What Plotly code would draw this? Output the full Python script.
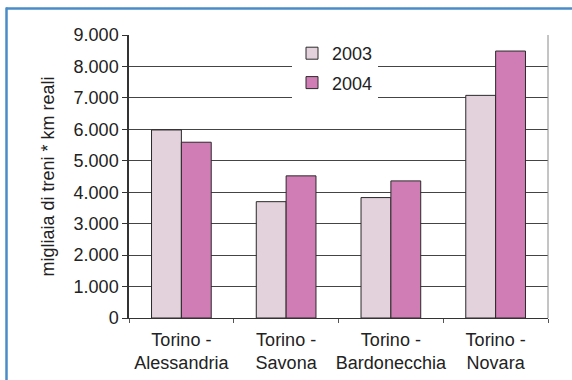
import plotly.graph_objects as go

categories = ["Torino -<br>Alessandria", "Torino -<br>Savona", "Torino -<br>Bardonecchia", "Torino -<br>Novara"]
series_names = ["2003", "2004"]
values_2003 = [5980, 3700, 3830, 7080]
values_2004 = [5590, 4520, 4360, 8490]
y_tick_vals = [0, 1000, 2000, 3000, 4000, 5000, 6000, 7000, 8000, 9000]
y_tick_text = ["0", "1.000", "2.000", "3.000", "4.000", "5.000", "6.000", "7.000", "8.000", "9.000"]
y_title = "migliaia di treni * km reali"

W, H = 572, 380
ML, MR, MT, MB = 129, 24, 35, 62
PW, PH = W - ML - MR, H - MT - MB

def px_x(p):
    return (p - ML) / PW

def px_y(p):
    return (H - MB - p) / PH

FONT = "Liberation Sans, Arial, sans-serif"
colors = ["#E3D1DB", "#D17DB5"]

fig = go.Figure()
for name, vals, col in zip(series_names, [values_2003, values_2004], colors):
    fig.add_trace(go.Bar(
        x=categories, y=vals, name=name, legendgroup=name,
        marker=dict(color=col, line=dict(color="#2a2a2a", width=1)),
    ))

fig.update_layout(
    width=W, height=H,
    margin=dict(l=ML, r=MR, t=MT, b=MB, autoexpand=False),
    paper_bgcolor="white", plot_bgcolor="white",
    font=dict(family=FONT, size=18, color="#222"),
    barmode="group", bargap=0.43, bargroupgap=0,
    showlegend=True,
    legend=dict(
        x=px_x(292), y=px_y(35), xanchor="left", yanchor="top",
        bgcolor="white", borderwidth=0,
        font=dict(size=18, family=FONT, color="#222"),
        tracegroupgap=3, itemwidth=30,
    ),
    xaxis=dict(
        showline=True, linecolor="#333", linewidth=1,
        ticks="outside", ticklen=4, tickcolor="#555", tickson="boundaries",
        tickfont=dict(size=18, family=FONT, color="#222"),
        tickangle=0, automargin=False,
        ticklabelstandoff=5,
        showgrid=False,
    ),
    yaxis=dict(
        range=[0, 9000], tickvals=y_tick_vals, ticktext=y_tick_text,
        showline=True, linecolor="#333", linewidth=1.5,
        ticks="outside", ticklen=5, tickcolor="#333",
        showgrid=True, gridcolor="#444", gridwidth=1,
        tickfont=dict(size=18, family=FONT, color="#222"),
        automargin=False,
        title=dict(text=y_title, font=dict(size=18, family=FONT, color="#222"), standoff=14),
        zeroline=False,
    ),
    shapes=[
        dict(type="line", xref="x domain", yref="y domain", x0=1, x1=1, y0=0, y1=1,
             line=dict(color="#8a8a8a", width=1)),
        dict(type="line", xref="paper", yref="paper", x0=px_x(6), x1=px_x(572), y0=px_y(8.5), y1=px_y(8.5),
             line=dict(color="#4A8CC8", width=2.5)),
        dict(type="line", xref="paper", yref="paper", x0=px_x(6.5), x1=px_x(6.5), y0=px_y(7.5), y1=px_y(380),
             line=dict(color="#4A8CC8", width=2.5)),
    ],
)

fig.write_html("out.html")
